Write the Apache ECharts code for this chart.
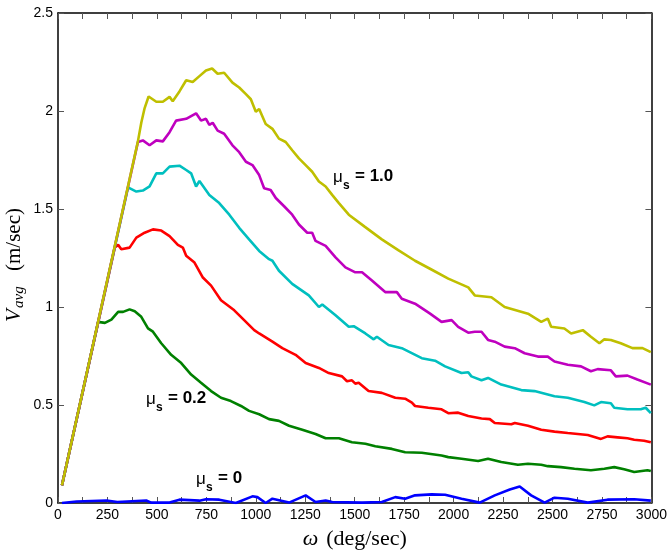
<!DOCTYPE html>
<html>
<head>
<meta charset="utf-8">
<script src="https://cdn.jsdelivr.net/npm/echarts@6/dist/echarts.min.js"></script>
<style>html,body{margin:0;padding:0;background:#fff;}#c{width:670px;height:555px;}</style>
</head>
<body>
<div id="c"></div>
<script>
// ---- data (omega in deg/sec, V_avg in m/sec) ----
const xTicks = [0,250,500,750,1000,1250,1500,1750,2000,2250,2500,2750,3000];
const yTicks = [0,0.5,1,1.5,2,2.5];
const labelValues = ['0','0.2','1.0'];

const mu00 = [[20,0.0],[94,0.008],[245,0.013],[300,0.005],[446,0.013],[471,0.002],[564,0.002],[614,0.017],[715,0.012],[748,0.019],[815,0.017],[899,0.0],[983,0.034],[1008,0.030],[1050,0.0],[1084,0.022],[1168,0.002],[1252,0.039],[1302,0.005],[1353,0.013],[1386,0.005],[1537,0.002],[1637,0.005],[1705,0.03],[1755,0.022],[1805,0.039],[1889,0.044],[1957,0.042],[2040,0.022],[2132,0.002],[2208,0.039],[2284,0.069],[2334,0.084],[2392,0.039],[2460,0.002],[2510,0.027],[2577,0.022],[2678,0.002],[2778,0.017],[2913,0.019],[2997,0.012]];

const mu02 = [[20,0.09],[203,0.924],[237,0.919],[270,0.936],[304,0.975],[329,0.975],[362,0.988],[388,0.978],[421,0.95],[455,0.891],[480,0.874],[522,0.815],[572,0.756],[623,0.714],[673,0.655],[723,0.613],[774,0.571],[824,0.537],[874,0.52],[925,0.495],[966,0.47],[1017,0.453],[1067,0.428],[1117,0.419],[1168,0.394],[1235,0.374],[1302,0.352],[1353,0.33],[1420,0.33],[1486,0.31],[1554,0.302],[1604,0.29],[1688,0.276],[1755,0.259],[1839,0.256],[1939,0.242],[1973,0.234],[2040,0.226],[2124,0.214],[2174,0.226],[2241,0.209],[2325,0.195],[2376,0.2],[2443,0.195],[2476,0.188],[2543,0.183],[2611,0.175],[2694,0.167],[2762,0.175],[2812,0.183],[2862,0.172],[2913,0.158],[2980,0.167],[2997,0.163]];

const mu04 = [[20,0.09],[287,1.303],[304,1.317],[320,1.295],[362,1.303],[396,1.354],[438,1.379],[480,1.396],[522,1.39],[564,1.362],[606,1.317],[631,1.303],[648,1.261],[690,1.227],[731,1.152],[774,1.109],[824,1.034],[891,0.983],[941,0.933],[992,0.882],[1017,0.865],[1084,0.823],[1134,0.79],[1201,0.756],[1252,0.714],[1319,0.689],[1369,0.663],[1436,0.646],[1461,0.621],[1486,0.626],[1503,0.609],[1520,0.613],[1570,0.571],[1637,0.562],[1705,0.537],[1755,0.532],[1789,0.512],[1805,0.495],[1872,0.486],[1939,0.478],[1973,0.458],[2023,0.461],[2074,0.444],[2141,0.431],[2183,0.428],[2208,0.408],[2292,0.402],[2309,0.408],[2376,0.394],[2443,0.374],[2510,0.364],[2577,0.357],[2678,0.347],[2745,0.327],[2778,0.34],[2829,0.335],[2879,0.33],[2913,0.323],[2963,0.318],[2997,0.31]];

const mu06 = [[20,0.09],[354,1.61],[396,1.589],[429,1.594],[463,1.615],[497,1.682],[530,1.682],[564,1.716],[614,1.721],[648,1.699],[673,1.682],[698,1.615],[715,1.643],[765,1.572],[815,1.53],[866,1.471],[916,1.404],[966,1.345],[1017,1.286],[1067,1.244],[1084,1.236],[1117,1.185],[1184,1.118],[1268,1.059],[1319,1.0],[1336,1.013],[1403,0.958],[1470,0.899],[1495,0.902],[1554,0.865],[1596,0.835],[1612,0.848],[1671,0.806],[1738,0.79],[1839,0.739],[1906,0.726],[1957,0.697],[2040,0.663],[2074,0.667],[2090,0.646],[2141,0.626],[2174,0.638],[2241,0.604],[2342,0.576],[2409,0.571],[2510,0.545],[2577,0.537],[2661,0.515],[2711,0.498],[2745,0.515],[2795,0.509],[2812,0.486],[2879,0.478],[2946,0.478],[2971,0.486],[2997,0.458]];

const mu08 = [[20,0.09],[404,1.842],[429,1.85],[463,1.825],[497,1.85],[530,1.845],[564,1.892],[597,1.951],[648,1.96],[698,1.988],[723,1.951],[748,1.96],[765,1.929],[782,1.94],[807,1.90],[840,1.884],[882,1.825],[916,1.79],[950,1.741],[983,1.724],[1017,1.673],[1042,1.606],[1075,1.597],[1101,1.556],[1143,1.514],[1184,1.471],[1218,1.421],[1260,1.379],[1285,1.379],[1302,1.337],[1353,1.312],[1403,1.253],[1453,1.202],[1503,1.177],[1537,1.177],[1587,1.135],[1654,1.076],[1713,1.076],[1738,1.042],[1805,1.017],[1881,0.966],[1939,0.924],[1990,0.933],[2023,0.899],[2074,0.869],[2107,0.874],[2141,0.874],[2174,0.832],[2208,0.823],[2258,0.798],[2309,0.79],[2359,0.764],[2426,0.747],[2476,0.747],[2510,0.722],[2577,0.705],[2644,0.697],[2694,0.672],[2728,0.683],[2795,0.677],[2820,0.646],[2879,0.65],[2929,0.63],[2997,0.604]];

const mu10 = [[20,0.09],[404,1.845],[421,1.94],[438,2.015],[458,2.074],[497,2.047],[530,2.047],[564,2.072],[580,2.05],[614,2.10],[648,2.157],[681,2.148],[715,2.178],[748,2.207],[779,2.217],[807,2.19],[840,2.195],[882,2.145],[916,2.12],[950,2.086],[975,2.06],[1000,1.996],[1017,2.01],[1050,1.934],[1084,1.909],[1117,1.859],[1151,1.842],[1184,1.80],[1218,1.758],[1252,1.724],[1285,1.69],[1319,1.64],[1353,1.615],[1386,1.572],[1420,1.53],[1470,1.471],[1550,1.41],[1637,1.345],[1720,1.29],[1805,1.236],[1890,1.19],[1973,1.145],[2074,1.10],[2107,1.059],[2191,1.05],[2258,1.0],[2376,0.966],[2443,0.924],[2476,0.941],[2493,0.899],[2560,0.89],[2594,0.865],[2653,0.882],[2694,0.848],[2737,0.815],[2762,0.835],[2795,0.832],[2845,0.815],[2904,0.79],[2955,0.79],[2997,0.77]];

// ---- styling ----
const SANS = '"Liberation Sans", Arial, sans-serif';
const SERIF = '"Liberation Serif", "Times New Roman", serif';
const tickColor = '#555';

function xAx(pos, showLabel) {
  return {
    type: 'value', position: pos, min: 0, max: 3000, interval: 250,
    axisLine: { show: true, onZero: false, lineStyle: { color: '#000', width: 1.5 } },
    axisTick: { show: true, inside: true, length: 6, lineStyle: { color: tickColor, width: 1 } },
    minorTick: { show: true, splitNumber: 2, length: 6, lineStyle: { color: tickColor, width: 1 } },
    splitLine: { show: false },
    axisLabel: { show: showLabel, color: '#000', fontFamily: SANS, fontSize: 14, margin: 5,
      formatter: v => (xTicks.indexOf(v) >= 0 ? String(v) : '') }
  };
}
function yAx(pos, showLabel) {
  return {
    type: 'value', position: pos, min: 0, max: 2.5, interval: 0.5,
    axisLine: { show: true, onZero: false, lineStyle: { color: '#000', width: 1.5 } },
    axisTick: { show: true, inside: true, length: 6, lineStyle: { color: tickColor, width: 1 } },
    splitLine: { show: false },
    axisLabel: { show: showLabel, color: '#000', fontFamily: SANS, fontSize: 14, margin: 5,
      formatter: v => (yTicks.indexOf(v) >= 0 ? String(v) : '') }
  };
}

const xBottom = xAx('bottom', true);
xBottom.name = '{w|ω}{sp| }{n|(deg/sec)}';
xBottom.nameLocation = 'middle';
xBottom.nameGap = 25;
xBottom.nameTextStyle = { rich: {
  w: { fontFamily: SERIF, fontStyle: 'italic', fontSize: 22, color: '#000' },
  sp: { fontFamily: SERIF, fontSize: 22, width: 8 },
  n: { fontFamily: SERIF, fontSize: 22, color: '#000' } } };

function line(data, color) {
  return { type: 'line', data: data, showSymbol: false, symbol: 'none', smooth: false,
    xAxisIndex: 0, yAxisIndex: 0, lineStyle: { color: color, width: 2.6 }, animation: false, z: 3 };
}

// annotation text: mu, subscript s, "= value"
function annot(x, cy, value) {
  return [
    { type: 'text', x: x, y: cy + 1, style: { text: 'μ', font: '17px ' + SANS, fill: '#000', verticalAlign: 'middle' } },
    { type: 'text', x: x + 10, y: cy + 10, style: { text: 's', font: 'bold 12px ' + SANS, fill: '#000', verticalAlign: 'middle' } },
    { type: 'text', x: x + 22, y: cy, style: { text: '= ' + value, font: 'bold 17px ' + SANS, fill: '#000', verticalAlign: 'middle' } }
  ];
}

const chart = echarts.init(document.getElementById('c'), null, { renderer: 'canvas' });
chart.setOption({
  animation: false,
  backgroundColor: '#fff',
  grid: { left: 58, right: 16, top: 13, bottom: 47, containLabel: false },
  xAxis: [xBottom, xAx('top', false)],
  yAxis: [yAx('left', true), yAx('right', false)],
  series: [
    line(mu00, '#0000ff'),
    line(mu02, '#008000'),
    line(mu04, '#ff0000'),
    line(mu06, '#00bfbf'),
    line(mu08, '#bf00bf'),
    line(mu10, '#bfbf00')
  ],
  graphic: [
    ...annot(333, 176, labelValues[2]),
    ...annot(146, 398, labelValues[1]),
    ...annot(196, 478, labelValues[0]),
    { type: 'group', x: 14, y: 261, rotation: Math.PI / 2, children: [
      { type: 'text', x: -61, y: 0, style: { text: 'V', font: 'italic 21px ' + SERIF, fill: '#000', verticalAlign: 'middle' } },
      { type: 'text', x: -47, y: 5, style: { text: 'avg', font: 'italic 15px ' + SERIF, fill: '#000', verticalAlign: 'middle' } },
      { type: 'text', x: -10, y: 0, style: { text: '(m/sec)', font: '21px ' + SERIF, fill: '#000', verticalAlign: 'middle' } }
    ]}
  ]
});
</script>
</body>
</html>
